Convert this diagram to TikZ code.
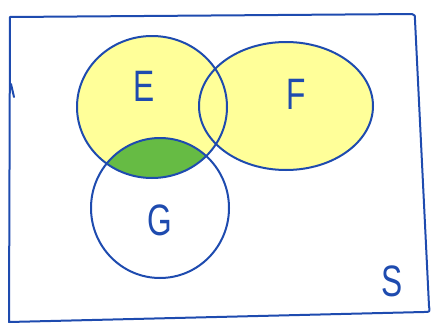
\documentclass[tikz,border=0pt]{standalone}
\usepackage{fontspec}
\setmainfont{Liberation Sans}
\usepackage{xcolor}
\usetikzlibrary{shapes.geometric, positioning, calc}

\definecolor{penblue}{RGB}{30,75,175}
\definecolor{hiyellow}{RGB}{255,255,153}
\definecolor{higreen}{RGB}{102,187,68}

\begin{document}
\begin{tikzpicture}[
    x=1pt, y=-1pt,
    pen/.style={draw=penblue, line width=2pt, line cap=round, line join=round},
    setshape/.style={ellipse, pen, inner sep=0pt, outer sep=0pt},
    setlabel/.style={text=penblue, xscale=0.72, font=\fontsize{44}{44}\selectfont},
]
    \useasboundingbox (0,0) rectangle (432,324);

    % shading: E and F in yellow, E and G together in green
    \fill[hiyellow] (152,107) ellipse (75 and 71);
    \fill[hiyellow] (286,106) ellipse (87 and 64);
    \begin{scope}
        \clip (152,107) ellipse (75 and 71);
        \fill[higreen] (160,208) ellipse (69 and 70);
    \end{scope}

    % sample space
    \draw[pen] (10,17) -- (412,14) .. controls (415,15) .. (415,20)
        -- (429,306) .. controls (430,312) .. (424,312) -- (9,322) -- cycle;
    \draw[pen] (11,84) -- (14,97);

    \node[setshape, minimum width=150pt, minimum height=142pt] (E) at (152,107) {};
    \node[setshape, minimum width=174pt, minimum height=128pt] (F) at (286,106) {};
    \node[setshape, minimum width=138pt, minimum height=140pt] (G) at (160,208) {};

    \node[setlabel] (labE) at (144,86) {E};
    \node[setlabel] (labF) at (296,94) {F};
    \node[setlabel] (labG) at (160,220) {G};
    \node[setlabel] (labS) at (392,281) {S};
\end{tikzpicture}
\end{document}
